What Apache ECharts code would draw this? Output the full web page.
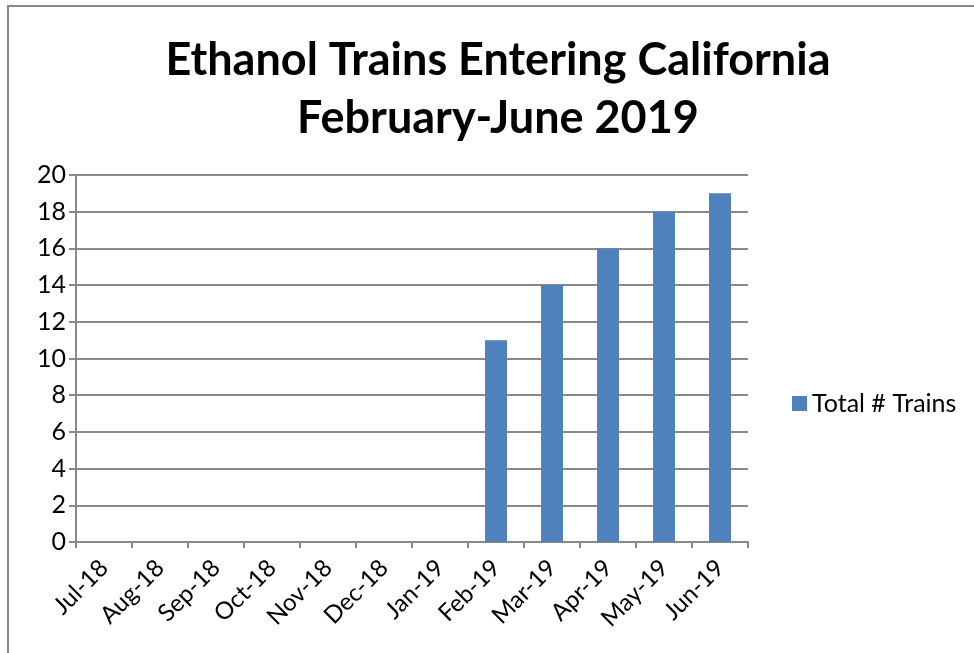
<!DOCTYPE html>
<html>
<head>
<meta charset="utf-8">
<script src="https://cdn.jsdelivr.net/npm/echarts@6/dist/echarts.min.js"></script>
<style>
html,body{margin:0;padding:0;background:#fff;}
#frame{position:absolute;left:7px;top:5px;width:1000px;height:700px;border-left:2px solid #898989;border-top:2px solid #898989;}
#chart{position:absolute;left:0;top:0;width:974px;height:653px;}
</style>
</head>
<body>
<div id="frame"></div>
<div id="chart"></div>
<script>
const categories = ['Jul-18','Aug-18','Sep-18','Oct-18','Nov-18','Dec-18','Jan-19','Feb-19','Mar-19','Apr-19','May-19','Jun-19'];
const totalTrains = [0,0,0,0,0,0,0,11,14,16,18,19];
const seriesName = 'Total # Trains';
const titleLines = ['Ethanol Trains Entering California','February-June 2019'];

const font = 'Lato, "Open Sans", sans-serif';
const chart = echarts.init(document.getElementById('chart'), null, {renderer:'canvas'});
chart.setOption({
  backgroundColor: 'transparent',
  animation: false,
  title: {
    text: titleLines.join('\n'),
    left: 493,
    top: 26,
    textAlign: 'center',
    textStyle: {fontFamily: font, fontWeight: 'bold', fontSize: 45, lineHeight: 58, color: '#000'}
  },
  legend: {
    data: [seriesName],
    left: 787,
    top: 386,
    icon: 'rect',
    itemWidth: 15,
    itemHeight: 15,
    itemGap: 7,
    textStyle: {fontFamily: font, fontSize: 25, color: '#000'}
  },
  grid: {left: 76, right: 226, top: 175, bottom: 111, containLabel: false},
  xAxis: {
    type: 'category',
    data: categories,
    boundaryGap: true,
    axisLine: {lineStyle: {color: '#898989', width: 2}},
    axisTick: {show: true, length: 6, inside: false, lineStyle: {color: '#898989', width: 2}, alignWithLabel: false},
    axisLabel: {rotate: 45, fontFamily: font, fontSize: 24, color: '#000', margin: 22, interval: 0}
  },
  yAxis: {
    type: 'value',
    min: 0,
    max: 20,
    interval: 2,
    axisLine: {show: true, lineStyle: {color: '#898989', width: 2}},
    axisTick: {show: true, length: 7, lineStyle: {color: '#898989', width: 2}},
    splitLine: {show: true, lineStyle: {color: '#898989', width: 2}},
    axisLabel: {fontFamily: font, fontSize: 25, color: '#000', margin: 10}
  },
  series: [{
    name: seriesName,
    type: 'bar',
    data: totalTrains,
    barWidth: 22,
    itemStyle: {color: '#4f81bd'}
  }]
});
</script>
</body>
</html>
